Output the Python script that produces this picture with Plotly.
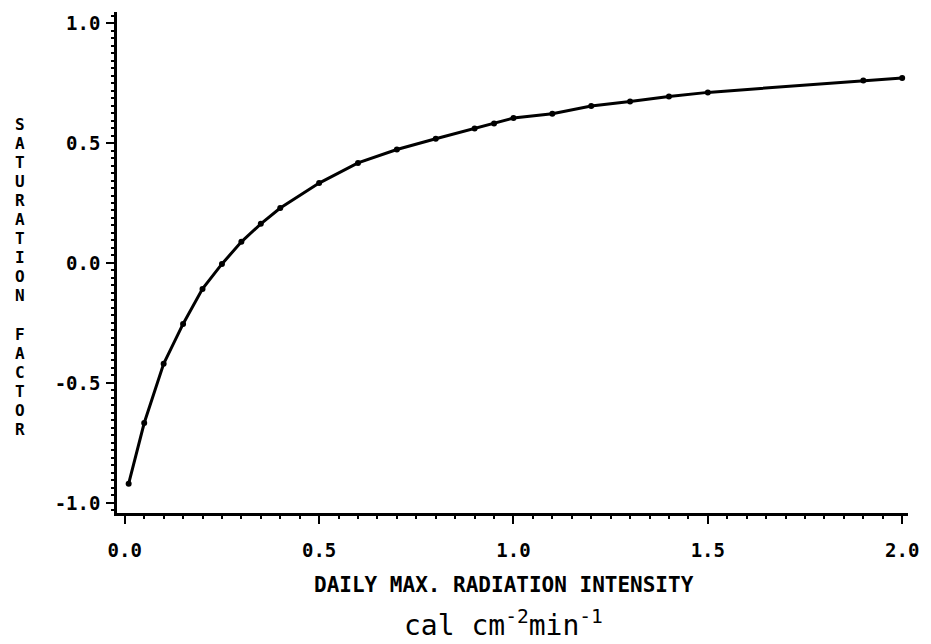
import plotly.graph_objects as go

# Data
x_vals = [0.01, 0.05, 0.1, 0.15, 0.2, 0.25, 0.3, 0.35, 0.4, 0.5, 0.6, 0.7, 0.8,
          0.9, 0.95, 1.0, 1.1, 1.2, 1.3, 1.4, 1.5, 1.9, 2.0]
y_vals = [-0.92, -0.667, -0.42, -0.254, -0.108, -0.004, 0.088, 0.163, 0.229,
          0.333, 0.417, 0.473, 0.518, 0.56, 0.581, 0.604, 0.622, 0.654, 0.673,
          0.694, 0.711, 0.761, 0.771]
x_ticks = [0.0, 0.5, 1.0, 1.5, 2.0]
x_ticklabels = ["0.0", "0.5", "1.0", "1.5", "2.0"]
y_ticks = [-1.0, -0.5, 0.0, 0.5, 1.0]
y_ticklabels = ["-1.0", "-0.5", "0.0", "0.5", "1.0"]
x_minor_step = 0.05
y_minor_step = 0.03125
x_title = "DAILY MAX. RADIATION INTENSITY"
y_title = "SATURATION FACTOR"
unit_text = "cal cm<sup>-2</sup>min<sup>-1</sup>"

W, H = 931, 644
L, R, T, B = 117, 14, 12, 131
PW, PH = W - L - R, H - T - B
X_RANGE = [-0.02, 2.015]
Y_RANGE = [-1.042, 1.046]

def px(xp):
    return (xp - L) / PW

def py(yp):
    return (H - B - yp) / PH

MONO = "DejaVu Sans Mono"

fig = go.Figure()
# invisible copy on overlay axes (carries the minor ticks)
fig.add_trace(go.Scatter(
    x=x_vals, y=y_vals, mode="markers", marker=dict(opacity=0),
    xaxis="x2", yaxis="y2", showlegend=False, hoverinfo="skip"))
fig.add_trace(go.Scatter(
    x=x_vals, y=y_vals, mode="lines+markers",
    line=dict(color="black", width=3),
    marker=dict(color="black", size=6),
    showlegend=False, hoverinfo="skip"))

fig.update_layout(
    width=W, height=H,
    margin=dict(l=L, r=R, t=T, b=B, pad=0),
    paper_bgcolor="white", plot_bgcolor="white",
    font=dict(family=MONO, color="black"),
    xaxis=dict(
        range=X_RANGE, showgrid=False, zeroline=False,
        showline=True, linecolor="black", linewidth=2.5,
        tickmode="array", tickvals=x_ticks, ticktext=x_ticklabels,
        ticks="outside", ticklen=8, tickwidth=2, tickcolor="black",
        ticklabelstandoff=10,
        tickfont=dict(family=MONO, size=19, weight="bold", color="black"),
    ),
    yaxis=dict(
        range=Y_RANGE, showgrid=False, zeroline=False,
        showline=True, linecolor="black", linewidth=2.5,
        tickmode="array", tickvals=y_ticks, ticktext=y_ticklabels,
        ticks="outside", ticklen=8, tickwidth=2, tickcolor="black",
        ticklabelstandoff=2,
        tickfont=dict(family=MONO, size=19, weight="bold", color="black"),
    ),
    xaxis2=dict(
        range=X_RANGE, overlaying="x", anchor="y", side="bottom",
        showgrid=False, zeroline=False, showline=False,
        tickmode="linear", tick0=0, dtick=x_minor_step,
        ticks="outside", ticklen=5, tickwidth=2, tickcolor="black",
        showticklabels=False,
    ),
    yaxis2=dict(
        range=Y_RANGE, overlaying="y", anchor="x", side="left",
        showgrid=False, zeroline=False, showline=False,
        tickmode="linear", tick0=0, dtick=y_minor_step,
        ticks="outside", ticklen=5, tickwidth=2, tickcolor="black",
        showticklabels=False,
    ),
)

annotations = []
# vertical stacked y-axis title
y0, step = 124, 19.1
for i, ch in enumerate(y_title):
    if ch == " ":
        continue
    annotations.append(dict(
        text=ch, xref="paper", yref="paper", x=px(19), y=py(y0 + i * step),
        xanchor="center", yanchor="middle", showarrow=False,
        font=dict(family=MONO, size=16, weight="bold", color="black")))

annotations.append(dict(
    text=x_title, xref="paper", yref="paper", x=px(508), y=py(585),
    xanchor="center", yanchor="middle", showarrow=False,
    font=dict(family=MONO, size=21, weight="bold", color="black")))

annotations.append(dict(
    text=unit_text, xref="paper", yref="paper", x=px(405), y=py(644),
    xanchor="left", yanchor="bottom", showarrow=False,
    font=dict(family=MONO, size=28, color="black")))

fig.update_layout(annotations=annotations)
fig.write_html("out.html")
